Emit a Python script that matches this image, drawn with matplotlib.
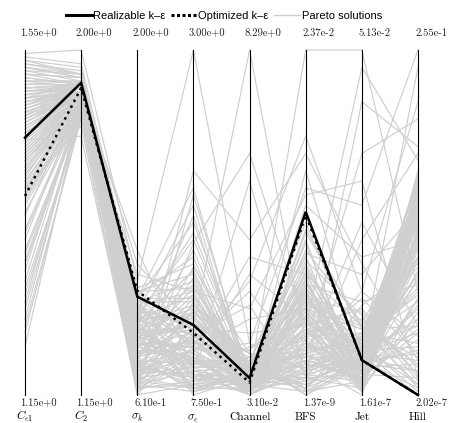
import matplotlib
matplotlib.use("Agg")
import matplotlib.pyplot as plt
from matplotlib.lines import Line2D

plt.rcParams['mathtext.fontset'] = 'cm'

# ---- data (normalized 0..1 on each axis) ----
axis_names = [r'$C_{\epsilon 1}$', r'$C_2$', r'$\sigma_k$', r'$\sigma_\epsilon$',
              'Channel', 'BFS', 'Jet', 'Hill']
axis_is_math = [True, True, True, True, False, False, False, False]
top_labels = ['1.55e+0', '2.00e+0', '2.00e+0', '3.00e+0', '8.29e+0', '2.37e-2', '5.13e-2', '2.55e-1']
bottom_labels = ['1.15e+0', '1.15e+0', '6.10e-1', '7.50e-1', '3.10e-2', '1.37e-9', '1.61e-7', '2.02e-7']

realizable = [0.746, 0.905, 0.285, 0.203, 0.049, 0.531, 0.101, 0.0]
optimized = [0.577, 0.890, 0.302, 0.180, 0.036, 0.522, 0.101, 0.0]

pareto_ce1 = [0.92,0.85,0.78,0.95,0.70,0.88,0.63,0.81,0.97,0.74,
              0.86,0.68,0.90,0.59,0.83,0.76,0.93,0.66,0.80,0.87,
              0.72,0.96,0.61,0.84,0.79,0.91,0.57,0.75,0.89,0.82,
              0.69,0.94,0.77,0.64,0.86,0.73,0.98,0.80,0.67,0.88,
              0.55,0.83,0.71,0.90,0.62,0.85,0.78,0.93,0.58,0.76,
              0.87,0.65,0.81,0.95,0.70,0.84,0.48,0.42,0.36,0.31,
              0.27,0.22,0.18,0.14,0.45,0.39,0.33,0.25,0.52,0.20,
              0.99,0.60,0.89,0.74,0.82,0.91,0.68,0.79,0.86,0.97,
              0.81,0.66,0.93,0.74,0.58,0.87,0.70,0.95,0.62,0.84,
              0.77,0.91,0.53,0.68,0.89,0.73,0.96,0.64,0.82,0.71,
              0.47,0.38,0.29,0.86,0.79,0.92,0.56,0.75,0.88,0.65,
              0.83,0.72,0.94,0.60,0.80,0.69,0.90,0.41,0.85,0.76]
pareto_c2 = [0.90,0.88,0.86,0.92,0.85,0.89,0.87,0.91,0.93,0.86,
             0.88,0.84,0.90,0.86,0.89,0.87,0.92,0.85,0.88,0.90,
             0.86,0.94,0.84,0.89,0.87,0.91,0.83,0.86,0.90,0.88,
             0.85,0.93,0.87,0.84,0.89,0.86,0.96,0.88,0.85,0.90,
             0.83,0.88,0.86,0.91,0.84,0.89,0.87,0.92,0.82,0.86,
             0.89,0.85,0.88,0.93,0.86,0.90,0.84,0.82,0.86,0.80,
             0.83,0.85,0.81,0.84,0.87,0.83,0.85,0.82,0.88,0.80,
             1.00,0.78,0.90,0.75,0.87,0.89,0.85,0.88,0.91,0.95,
             0.87,0.85,0.90,0.86,0.84,0.89,0.86,0.92,0.85,0.88,
             0.87,0.91,0.83,0.85,0.89,0.86,0.93,0.84,0.88,0.86,
             0.83,0.82,0.81,0.88,0.87,0.90,0.84,0.86,0.89,0.85,
             0.88,0.86,0.91,0.84,0.87,0.85,0.90,0.82,0.88,0.86]
pareto_sk = [0.25,0.18,0.10,0.28,0.05,0.22,0.14,0.30,0.08,0.20,
             0.12,0.26,0.03,0.17,0.24,0.09,0.29,0.15,0.06,0.21,
             0.11,0.27,0.02,0.19,0.13,0.23,0.07,0.16,0.31,0.04,
             0.20,0.10,0.25,0.14,0.01,0.18,0.28,0.08,0.22,0.12,
             0.30,0.05,0.17,0.24,0.09,0.27,0.03,0.15,0.21,0.11,
             0.26,0.06,0.19,0.13,0.29,0.02,0.23,0.16,0.08,0.20,
             0.12,0.25,0.04,0.18,0.10,0.28,0.14,0.07,0.22,0.00,
             0.33,0.01,0.38,0.02,0.42,0.15,0.35,0.05,0.26,0.10,
             0.16,0.07,0.23,0.12,0.02,0.27,0.09,0.19,0.05,0.14,
             0.21,0.01,0.11,0.25,0.06,0.18,0.03,0.22,0.13,0.08,
             0.17,0.04,0.26,0.10,0.20,0.15,0.00,0.24,0.07,0.12,
             0.28,0.03,0.19,0.09,0.14,0.22,0.06,0.11,0.17,0.02]
pareto_se = [0.20,0.12,0.05,0.28,0.02,0.16,0.09,0.35,0.24,0.07,
             0.14,0.30,0.01,0.19,0.22,0.04,0.40,0.11,0.08,0.26,
             0.15,0.33,0.03,0.18,0.10,0.45,0.06,0.21,0.38,0.13,
             0.25,0.02,0.17,0.29,0.09,0.12,0.50,0.05,0.23,0.16,
             0.31,0.07,0.20,0.55,0.03,0.27,0.11,0.14,0.36,0.01,
             0.19,0.08,0.24,0.42,0.13,0.04,0.21,0.10,0.17,0.06,
             0.26,0.15,0.02,0.32,0.09,0.60,0.18,0.12,0.47,0.03,
             1.00,0.58,0.20,0.65,0.08,0.52,0.30,0.44,0.14,0.37,
             0.10,0.22,0.04,0.16,0.27,0.08,0.13,0.02,0.19,0.31,
             0.06,0.14,0.24,0.01,0.11,0.20,0.07,0.29,0.03,0.17,
             0.12,0.25,0.05,0.34,0.09,0.15,0.21,0.00,0.13,0.26,
             0.04,0.18,0.08,0.23,0.11,0.02,0.16,0.28,0.06,0.10]
pareto_channel = [0.03,0.06,0.01,0.08,0.02,0.05,0.10,0.04,0.12,0.00,
                  0.07,0.03,0.09,0.02,0.06,0.11,0.01,0.04,0.08,0.05,
                  0.13,0.02,0.07,0.03,0.10,0.06,0.00,0.09,0.04,0.15,
                  0.01,0.05,0.08,0.02,0.11,0.03,0.07,0.14,0.06,0.00,
                  0.09,0.04,0.12,0.02,0.05,0.08,0.01,0.10,0.03,0.06,
                  0.18,0.02,0.07,0.04,0.22,0.09,0.01,0.05,0.26,0.03,
                  0.08,0.30,0.06,0.02,0.35,0.04,0.11,0.40,0.07,0.01,
                  0.15,0.05,1.00,0.45,0.62,0.02,0.25,0.70,0.33,0.12,
                  0.02,0.05,0.08,0.01,0.04,0.10,0.03,0.06,0.00,0.09,
                  0.02,0.07,0.12,0.04,0.01,0.05,0.08,0.03,0.11,0.06,
                  0.00,0.04,0.09,0.02,0.07,0.13,0.01,0.05,0.03,0.08,
                  0.06,0.02,0.10,0.04,0.00,0.07,0.03,0.09,0.05,0.01]
pareto_bfs = [0.10,0.25,0.05,0.35,0.15,0.02,0.40,0.20,0.08,0.30,
              0.12,0.45,0.03,0.22,0.18,0.06,0.38,0.27,0.01,0.14,
              0.33,0.09,0.24,0.48,0.04,0.19,0.28,0.11,0.36,0.07,
              0.16,0.42,0.02,0.26,0.13,0.31,0.05,0.21,0.44,0.10,
              0.17,0.34,0.00,0.23,0.39,0.08,0.29,0.15,0.47,0.03,
              0.20,0.12,0.37,0.06,0.25,0.50,0.14,0.32,0.01,0.18,
              0.41,0.09,0.27,0.04,0.22,0.55,0.11,0.35,0.07,0.30,
              0.60,1.00,0.15,0.70,0.05,0.65,0.58,0.20,0.75,0.12,
              0.18,0.05,0.30,0.11,0.24,0.02,0.15,0.35,0.08,0.21,
              0.13,0.28,0.04,0.19,0.32,0.09,0.26,0.01,0.16,0.23,
              0.07,0.33,0.12,0.20,0.03,0.27,0.14,0.10,0.29,0.06,
              0.22,0.17,0.00,0.25,0.12,0.31,0.05,0.19,0.09,0.15]
pareto_jet = [0.05,0.12,0.02,0.20,0.08,0.15,0.03,0.25,0.10,0.06,
              0.18,0.01,0.13,0.07,0.22,0.04,0.09,0.16,0.11,0.28,
              0.02,0.14,0.06,0.19,0.10,0.03,0.24,0.08,0.12,0.17,
              0.05,0.21,0.09,0.01,0.15,0.07,0.26,0.11,0.04,0.13,
              0.18,0.02,0.10,0.06,0.23,0.14,0.08,0.03,0.20,0.12,
              0.05,0.30,0.09,0.16,0.01,0.11,0.07,0.27,0.04,0.13,
              0.35,0.06,0.19,0.10,0.02,0.40,0.15,0.08,0.45,0.03,
              0.55,1.00,0.70,0.38,0.85,0.12,0.62,0.95,0.30,0.50,
              0.08,0.14,0.03,0.11,0.06,0.18,0.01,0.09,0.13,0.04,
              0.16,0.07,0.10,0.02,0.12,0.05,0.20,0.08,0.03,0.15,
              0.11,0.06,0.17,0.01,0.09,0.04,0.13,0.07,0.02,0.10,
              0.14,0.05,0.08,0.19,0.03,0.12,0.06,0.16,0.00,0.09]
pareto_hill = [0.45,0.10,0.60,0.02,0.52,0.30,0.58,0.05,0.40,0.62,
               0.15,0.55,0.35,0.48,0.08,0.57,0.25,0.50,0.63,0.12,
               0.42,0.03,0.59,0.20,0.54,0.47,0.06,0.61,0.33,0.56,
               0.18,0.49,0.64,0.28,0.01,0.53,0.38,0.60,0.44,0.14,
               0.58,0.22,0.51,0.46,0.04,0.62,0.36,0.55,0.09,0.43,
               0.65,0.17,0.50,0.27,0.57,0.07,0.61,0.32,0.48,0.00,
               0.54,0.40,0.11,0.59,0.24,0.45,0.63,0.19,0.70,0.52,
               1.00,0.30,0.80,0.10,0.72,0.95,0.05,0.68,0.85,0.20,
               0.50,0.20,0.58,0.35,0.05,0.46,0.61,0.13,0.53,0.28,
               0.40,0.56,0.02,0.48,0.22,0.60,0.37,0.09,0.51,0.31,
               0.55,0.16,0.44,0.62,0.07,0.39,0.57,0.26,0.47,0.12,
               0.59,0.34,0.52,0.03,0.43,0.18,0.54,0.29,0.49,0.64]

pareto_cols = [pareto_ce1, pareto_c2, pareto_sk, pareto_se,
               pareto_channel, pareto_bfs, pareto_jet, pareto_hill]

# ---- figure ----
W, H = 454, 423
fig = plt.figure(figsize=(W / 100, H / 100), dpi=100)
ax = fig.add_axes([25 / W, 1 - 395 / H, (418 - 25) / W, 345 / H])
n_axes = len(axis_names)
xs = list(range(n_axes))
ax.set_xlim(0, n_axes - 1)
ax.set_ylim(0, 1)
ax.axis('off')

grey = '#cfcfcf'
n_lines = len(pareto_ce1)
for i in range(n_lines):
    ys = [col[i] for col in pareto_cols]
    ax.plot(xs, ys, color=grey, lw=0.85, zorder=1, clip_on=False)

for x in xs:
    ax.plot([x, x], [0, 1], color='black', lw=0.8, zorder=2, clip_on=False)

ax.plot(xs, realizable, color='black', lw=1.8, zorder=4, clip_on=False,
        solid_joinstyle='miter')
ax.plot(xs, optimized, color='black', lw=1.8, ls=':', zorder=3, clip_on=False)

tr = ax.get_xaxis_transform()
dx = 13 / 56.14
for x, t, b, name, ismath in zip(xs, top_labels, bottom_labels, axis_names, axis_is_math):
    ax.text(x + dx, 1.0 + 17 / 345, t, transform=tr, ha='center', va='center',
            fontsize=7.6, family='cmr10', color='#222222')
    ax.text(x + dx, -8 / 345, b, transform=tr, ha='center', va='center',
            fontsize=7.6, family='cmr10', color='#222222')
    if ismath:
        ax.text(x, -25 / 345, name, transform=tr, ha='center', va='baseline',
                fontsize=8.5)
    else:
        ax.text(x, -25 / 345, name, transform=tr, ha='center', va='baseline',
                fontsize=8.2, family='cmr10')

handles = [Line2D([], [], color='black', lw=2.2),
           Line2D([], [], color='black', lw=2.2, ls=(0, (1, 0.8))),
           Line2D([], [], color=grey, lw=1.0)]
labels = ['Realizable k–ε', 'Optimized k–ε', 'Pareto solutions']
fig.legend(handles, labels, loc='center', bbox_to_anchor=(224 / W, 1 - 16 / H),
           ncol=3, frameon=False, handlelength=2.3,
           handletextpad=0.15, columnspacing=0.5,
           prop={'family': 'Liberation Sans', 'size': 8})

fig.savefig('out.png', dpi=100)
